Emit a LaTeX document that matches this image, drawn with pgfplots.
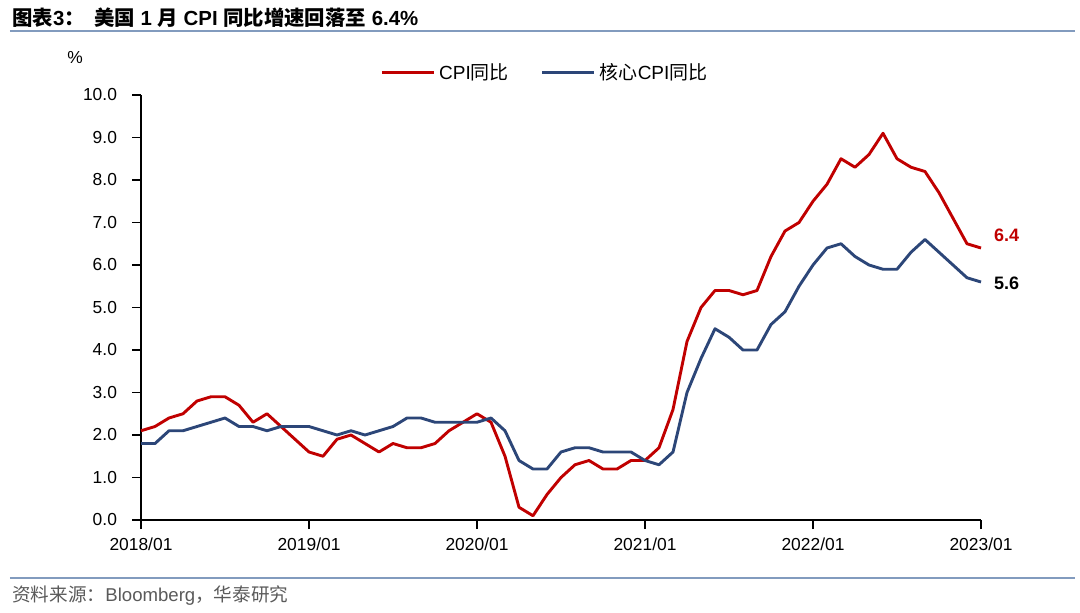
\documentclass[border=0pt]{standalone}
\usepackage{fontspec}
\setmainfont{Liberation Sans}
\newfontfamily\cjk{Noto Sans CJK SC}
\usepackage{pgfplots}
\pgfplotsset{compat=1.18}
\usepackage{pgfplotstable}

\definecolor{cpired}{RGB}{192,0,0}
\definecolor{corenavy}{RGB}{44,70,120}
\definecolor{rulecol}{RGB}{130,155,190}
\definecolor{srcgray}{RGB}{90,90,90}

% month index 0 = 2018/01 ... 60 = 2023/01
\pgfplotstableread{
m cpi core
0 2.1 1.8
1 2.2 1.8
2 2.4 2.1
3 2.5 2.1
4 2.8 2.2
5 2.9 2.3
6 2.9 2.4
7 2.7 2.2
8 2.3 2.2
9 2.5 2.1
10 2.2 2.2
11 1.9 2.2
12 1.6 2.2
13 1.5 2.1
14 1.9 2.0
15 2.0 2.1
16 1.8 2.0
17 1.6 2.1
18 1.8 2.2
19 1.7 2.4
20 1.7 2.4
21 1.8 2.3
22 2.1 2.3
23 2.3 2.3
24 2.5 2.3
25 2.3 2.4
26 1.5 2.1
27 0.3 1.4
28 0.1 1.2
29 0.6 1.2
30 1.0 1.6
31 1.3 1.7
32 1.4 1.7
33 1.2 1.6
34 1.2 1.6
35 1.4 1.6
36 1.4 1.4
37 1.7 1.3
38 2.6 1.6
39 4.2 3.0
40 5.0 3.8
41 5.4 4.5
42 5.4 4.3
43 5.3 4.0
44 5.4 4.0
45 6.2 4.6
46 6.8 4.9
47 7.0 5.5
48 7.5 6.0
49 7.9 6.4
50 8.5 6.5
51 8.3 6.2
52 8.6 6.0
53 9.1 5.9
54 8.5 5.9
55 8.3 6.3
56 8.2 6.6
57 7.7 6.3
58 7.1 6.0
59 6.5 5.7
60 6.4 5.6
}\cpidata

\begin{document}
\begin{tikzpicture}[font=\fontsize{8.7}{10}\selectfont]
\useasboundingbox (-70.5pt,-46pt) rectangle (469.5pt,260pt);

% title and rules
\node[anchor=west, inner sep=0pt, font=\fontsize{10.2}{12}\selectfont\bfseries]
  at (-64.5pt,251pt) {{\cjk 图表}3{\cjk ：}\hspace{0.45em}{\cjk 美国} 1 {\cjk 月} CPI {\cjk 同比增速回落至} 6.4\%};
\draw[rulecol, line width=1pt] (-65.5pt,244.5pt) -- (467pt,244.5pt);
\draw[rulecol, line width=1pt] (-65.5pt,-29pt) -- (467pt,-29pt);
\node[anchor=west, inner sep=0pt, text=srcgray, font=\fontsize{9.3}{11}\selectfont]
  at (-64.5pt,-38pt) {{\cjk 资料来源：}Bloomberg{\cjk ，华泰研究}};
\node[inner sep=0pt] at (-33pt,231pt) {\%};

\begin{axis}[
  at={(0,0)}, anchor=south west,
  scale only axis, width=420pt, height=212.5pt,
  xmin=0, xmax=60, ymin=0, ymax=10,
  axis x line*=bottom, axis y line*=left,
  axis line style={-, black, line width=0.8pt},
  xtick={0,12,24,36,48,60},
  xticklabels={2018/01,2019/01,2020/01,2021/01,2022/01,2023/01},
  ytick={0,1,...,10},
  tick align=outside, major tick length=4.5pt,
  tick style={black, line width=0.8pt},
  /pgf/number format/fixed,
  /pgf/number format/fixed zerofill,
  /pgf/number format/precision=1,
  /pgf/number format/assume math mode=true,
  yticklabel style={xshift=-4pt},
  xticklabel style={yshift=-1pt},
  clip=false,
  legend columns=2,
  legend style={draw=none, fill=none, at={(0.482,1.052)}, anchor=center,
    /tikz/every even column/.append style={column sep=14pt},
    font=\fontsize{9.5}{11}\selectfont},
  legend image code/.code={\draw[#1] (0pt,0pt) -- (26pt,0pt);},
]
\addplot[cpired, line width=1.45pt, line join=round] table[x=m, y=cpi] {\cpidata};
\addlegendentry{CPI{\cjk 同比}}
\addplot[corenavy, line width=1.45pt, line join=round] table[x=m, y=core] {\cpidata};
\addlegendentry{{\cjk 核心}CPI{\cjk 同比}}
\node[anchor=west, text=cpired, font=\fontsize{9}{10}\selectfont\bfseries] at (axis cs:60,6.7) {\hspace{3pt}6.4};
\node[anchor=west, text=black, font=\fontsize{9}{10}\selectfont\bfseries] at (axis cs:60,5.58) {\hspace{3pt}5.6};
\end{axis}
\end{tikzpicture}
\end{document}
